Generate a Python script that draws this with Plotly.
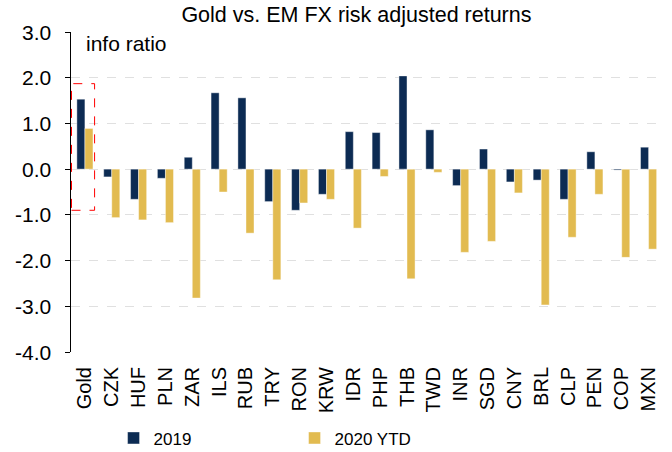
import plotly.graph_objects as go

categories = ["Gold", "CZK", "HUF", "PLN", "ZAR", "ILS", "RUB", "TRY", "RON", "KRW", "IDR",
              "PHP", "THB", "TWD", "INR", "SGD", "CNY", "BRL", "CLP", "PEN", "COP", "MXN"]
v2019 = [1.53, -0.17, -0.66, -0.20, 0.26, 1.67, 1.56, -0.71, -0.90, -0.55, 0.82,
         0.80, 2.04, 0.86, -0.36, 0.44, -0.28, -0.24, -0.66, 0.38, -0.02, 0.48]
v2020 = [0.89, -1.06, -1.11, -1.17, -2.82, -0.50, -1.40, -2.42, -0.74, -0.66, -1.29,
         -0.16, -2.40, -0.07, -1.82, -1.58, -0.52, -2.97, -1.49, -0.55, -1.93, -1.75]
yticks = [3, 2, 1, 0, -1, -2, -3, -4]
yticktext = [f"{v:.1f}" for v in yticks]

NAVY = "#0C2B53"
GOLD = "#E2BB50"
FONT = "Liberation Sans, Arial, sans-serif"

fig = go.Figure()
fig.add_trace(go.Bar(x=categories, y=v2019, name="2019", marker_color=NAVY,
                     marker_line=dict(color="rgba(255,255,255,0.7)", width=0.6)))
fig.add_trace(go.Bar(x=categories, y=v2020, name="2020 YTD", marker_color=GOLD,
                     marker_line=dict(color="rgba(255,255,255,0.7)", width=0.6)))

n = len(categories)
annotations = [dict(text="info ratio", xref="paper", yref="paper", x=0.0215, y=0.965,
                    xanchor="left", yanchor="middle", showarrow=False,
                    font=dict(size=21, color="#000"))]
# y-axis tick labels placed as text at each tick value
for v, t in zip(yticks, yticktext):
    annotations.append(dict(text=t, xref="paper", yref="y", x=-0.031, y=v,
                            xanchor="right", yanchor="middle", showarrow=False,
                            font=dict(size=21, color="#000")))

fig.update_layout(
    width=672, height=452,
    margin=dict(l=71, r=10, t=32, b=100, autoexpand=False),
    paper_bgcolor="white", plot_bgcolor="white",
    font=dict(family=FONT, color="#000000"),
    barmode="group", bargap=0.4, bargroupgap=0,
    title=dict(text="Gold vs. EM FX risk adjusted returns", font=dict(size=21.5, color="#000"),
               x=0.483, xref="paper", xanchor="center", y=0.967, yanchor="middle"),
    xaxis=dict(type="category", showline=False, ticks="", showgrid=False, zeroline=False,
               automargin=False, tickangle=-90, ticklabelstandoff=10,
               tickfont=dict(size=20, color="#000")),
    xaxis2=dict(overlaying="x", anchor="free", position=4/7, range=[-0.5, n - 0.5],
                tickmode="array", tickvals=[i - 0.5 for i in range(n + 1)],
                ticks="outside", ticklen=4, tickcolor="#000", tickwidth=1,
                showticklabels=False, showline=True, linecolor="#000", linewidth=1,
                showgrid=False, zeroline=False, automargin=False),
    yaxis=dict(range=[-4, 3], tickmode="array", tickvals=yticks, showticklabels=False,
               ticks="outside", ticklen=5, automargin=False,
               tickcolor="#000", showline=True, linecolor="#000", linewidth=1,
               showgrid=True, gridcolor="#E0E0E0", griddash="dash", gridwidth=1,
               zeroline=False),
    legend=dict(orientation="h", x=0.072, xanchor="left", y=-0.27, yanchor="middle",
                font=dict(size=17, color="#000"), entrywidth=136, itemwidth=30,
                traceorder="normal"),
    annotations=annotations,
    shapes=[dict(type="rect", xref="x", yref="y", x0=-0.5, x1=0.36, y0=-0.9, y1=1.87,
                 line=dict(color="#FF0000", width=1, dash="dash"), fillcolor="rgba(0,0,0,0)")],
)

fig.write_html("out.html", config={"displayModeBar": False},
               post_script="document.body.style.margin='0px';")
